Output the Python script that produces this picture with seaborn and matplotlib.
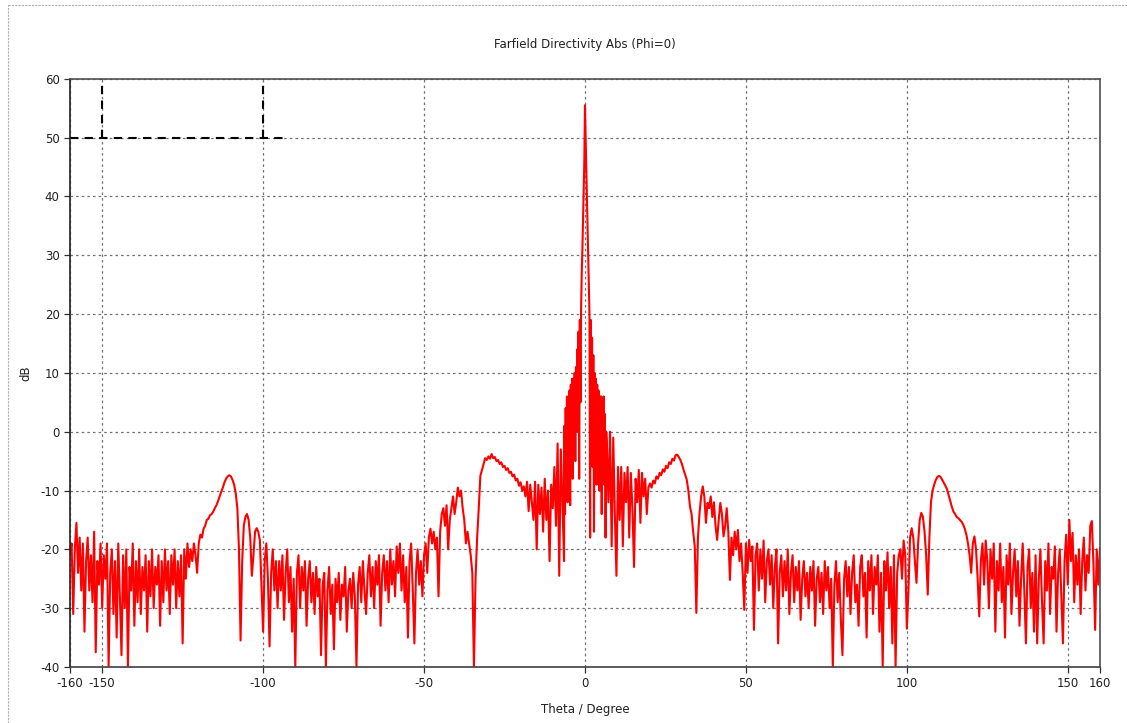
import numpy as np
import pandas as pd
import seaborn as sns
import matplotlib
matplotlib.use("Agg")
import matplotlib.pyplot as plt
from matplotlib.lines import Line2D

# directivity in dB (theta start, theta end, values)
floor_left = [-21, -19, -31, -20, -15.5, -24, -18, -27, -19, -34, -22, -18, -27, -21, -29, -17,
              -37.5, -22, -26, -19, -30, -21, -25, -19, -40, -24, -20, -31, -22, -35, -19, -28,
              -38, -21, -30, -20, -40, -23, -27, -19, -33, -22, -29, -20, -31, -23, -27, -21,
              -34, -22, -28, -20, -30, -23, -26, -21, -33, -22, -29, -20, -27, -22, -31, -21,
              -26, -20, -30, -22, -28, -21, -36, -20, -25, -19, -23, -20, -22, -19, -21, -24, -19]
lobe_left = [-17.5, -18, -16.5, -16, -15, -14.8, -14.2, -14, -13.6, -13, -12.5, -11.8, -11, -10.2,
             -9.5, -8.6, -8, -7.6, -7.4, -7.6, -8.2, -9, -10.5, -13, -20, -35.5, -22, -16, -14.5,
             -14, -15, -18, -24.5, -21, -17, -16.4, -17, -18.5, -26, -34, -22, -19, -25, -36.5,
             -24, -20, -27, -22]
floor_mid_left = [-30, -22, -27, -21, -32, -24, -20, -29, -23, -34, -25, -40, -24, -21, -30, -23,
                  -27, -22, -33, -25, -22, -29, -24, -31, -23, -28, -25, -38, -26, -24, -40, -27,
                  -23, -31, -26, -37, -25, -29, -24, -32, -26, -28, -23, -34, -27, -25, -30, -24,
                  -28, -40, -26, -23, -29, -22, -27, -31, -24, -21, -28, -23, -30, -22, -26, -21,
                  -33, -24, -21, -27, -22, -29, -20, -26, -22, -28, -19.5, -24, -19, -27, -21, -29,
                  -23, -35, -22, -19, -27, -36, -24, -20, -26, -22, -28, -21]
shoulder_left = [-19, -24, -18, -16.5, -19, -17, -20, -18, -28, -17, -14, -13, -16, -12.5, -20,
                 -15, -13, -11, -14, -12, -9.5, -11, -10, -13, -15, -19, -17, -19, -21, -24, -40,
                 -25, -18, -13, -7.5, -6.5, -5.5, -4.5, -4.8, -4.2, -4.6, -3.8, -4.5, -4.3, -5,
                 -4.8, -5.5, -5.2, -6, -5.8, -6.5, -6.2, -7, -6.8, -7.6, -7.3, -8.3, -8, -9.2,
                 -8.6, -10, -9.3, -11, -8.5, -13.5, -9, -12, -15, -8.5, -20, -9, -14, -9.5, -17,
                 -8, -15, -10, -22, -9, -13, -6, -16, -2, -24.5, -3, -12, -22]
core = [1, -14, 4, -8, 6, -12, 5, -6, 7, -12.5, 8, -4, 9, -8, 9, -2, 10, -5, 11, 0, 14, 2, 17, -8,
        19, 5, 21, 27, 31, 36, 41, 46, 55.5, 50, 45, 40, 35, 30, 25, 20, -18, 19, 2, 16, -6, 13,
        -17, 10, -2, 9, -9, 8, -3, 7, -10, 6, -5, 6, -14, 5, -3, 6, -9, 3, -18, 0]
shoulder_right = [-2, -12, 0, -19.5, -1, -14, -24.5, -6, -15, -6, -19.5, -7, -12, -6, -18, -7, -13,
                  -23, -8, -12, -6.5, -15.5, -7, -11, -8, -14, -9.5, -8.8, -9.5, -8.3, -8.8, -7.6,
                  -8, -7, -7.4, -6.4, -6.8, -5.8, -6.2, -5.2, -5.5, -4.6, -4.9, -4, -3.9, -4.3,
                  -4.8, -5.5, -6.5, -7.3, -8.2, -10, -12.7, -14, -17, -19.5, -30.8, -18, -13.8,
                  -11, -9.3, -11, -15.5, -12.1, -13, -11, -14.5, -12, -16, -18.4, -15, -12.1, -14,
                  -17.8, -16.1, -13, -17, -25.2, -18, -21, -17, -20, -16.7, -22, -19, -24, -30.3]
floor_mid_right = [-19, -24, -18.4, -22, -19.5, -33.7, -21, -19, -27, -20, -25, -18.5, -29, -22,
                   -20, -26, -21, -30, -23, -20, -36, -24, -21, -28, -22, -27, -20, -31, -24, -21,
                   -29, -23, -27, -22, -32, -25, -22, -28, -24, -30, -23, -27, -22, -33, -25, -23,
                   -29, -24, -31, -22, -27, -23, -30, -25, -40, -26, -22, -29, -24, -32, -38, -25,
                   -22, -28, -23, -31, -24, -21, -29, -26, -33, -23, -21, -28, -24, -35, -22, -27,
                   -21, -31, -23, -26, -21, -34, -24, -40, -22, -27, -20.5, -30, -23, -36, -21,
                   -40, -24, -21]
lobe_right = [-20, -25, -18.5, -21, -33.5, -27, -18, -16.4, -18, -22, -25.7, -19, -15, -13.8,
              -14.5, -17, -21, -27.7, -18, -12, -10, -9, -8.2, -7.7, -7.5, -7.7, -8.2, -8.7, -9.2,
              -9.8, -10.8, -11.8, -12.8, -13.6, -14, -14.5, -14.7, -15, -15.3, -15.8, -16.5,
              -17.5, -19, -21, -24, -19, -17.8, -20, -25, -31.4, -22]
floor_right = [-19, -26, -18.5, -22, -30, -20, -25, -19, -34, -22, -27, -19, -29, -23, -35, -21,
               -26, -19, -31, -24, -20, -28, -22, -33, -25, -19, -27, -36, -23, -20, -30, -24,
               -34, -21, -36, -25, -20, -29, -36, -22, -27, -19, -31, -23, -25, -19.5, -34, -24,
               -20, -28, -36, -22, -17.5, -26, -15, -22, -17.2, -29, -21, -26, -20, -31, -22, -18,
               -27, -21, -24, -16, -15.2, -23, -33.7, -20, -26, -19.7]

segments = [(-160, -120, floor_left), (-119.5, -96, lobe_left), (-95.5, -50, floor_mid_left),
            (-49.5, -6.5, shoulder_left), (-6.4, 6.6, core), (6.8, 49.5, shoulder_right),
            (50, 97.5, floor_mid_right), (98, 123, lobe_right), (123.5, 160, floor_right)]

x_ticks = [-160, -150, -100, -50, 0, 50, 100, 150, 160]
y_ticks = list(range(-40, 61, 10))
marker_x = [-150, -100]
marker_level = 50
marker_end = -93

theta = np.concatenate([np.linspace(a, b, len(v)) for a, b, v in segments])
db = np.concatenate([np.array(v, dtype=float) for a, b, v in segments])
df = pd.DataFrame({"theta": theta, "db": db})

sns.set_theme(style="white")
plt.rcParams["font.family"] = ["DejaVu Sans"]
plt.rcParams["axes.unicode_minus"] = False

fig = plt.figure(figsize=(11.27, 7.23), dpi=100)
ax = fig.add_axes([0.0621, 0.0775, 0.9139, 0.8135])

sns.lineplot(data=df, x="theta", y="db", color="#ff0000", linewidth=1.5,
             estimator=None, sort=False, ax=ax)

ax.set_xlim(-160, 160)
ax.set_ylim(-40, 60)
ax.set_xticks(x_ticks)
ax.set_yticks(y_ticks)
ax.grid(True, color="#707070", linestyle=(0, (2, 2.5)), linewidth=0.9)
ax.set_axisbelow(True)

for s in ax.spines.values():
    s.set_color("#505050")
    s.set_linewidth(1.2)
ax.spines["left"].set_color("#202020")
ax.spines["bottom"].set_color("#404040")

ax.tick_params(axis="both", direction="out", length=4, width=0.9, colors="#303030",
               labelsize=8.5, labelcolor="#202020", bottom=True, left=True)

# dashed marker lines in the upper left corner
for mx in marker_x:
    ax.plot([mx, mx], [marker_level, 60], color="black", linestyle=(0, (4, 3)), linewidth=1.5)
ax.plot([-160, marker_end], [marker_level, marker_level], color="black",
        linestyle=(0, (4, 3)), linewidth=1.5)

ax.set_title("Farfield Directivity Abs (Phi=0)", fontsize=8.5, color="#202020", pad=22)
ax.set_xlabel("Theta / Degree", fontsize=8.5, color="#202020", labelpad=9)
ax.set_ylabel("dB", fontsize=8.5, color="#202020", labelpad=6)

# thin dashed frame of the plot window
fig.add_artist(Line2D([0.007, 1.0], [0.993, 0.993], transform=fig.transFigure,
                      color="#b0b0b0", linewidth=0.8, linestyle=(0, (2, 1))))
fig.add_artist(Line2D([0.007, 0.007], [0.0, 0.993], transform=fig.transFigure,
                      color="#b0b0b0", linewidth=0.8, linestyle=(0, (2, 1))))

fig.savefig("out.png", dpi=100)
